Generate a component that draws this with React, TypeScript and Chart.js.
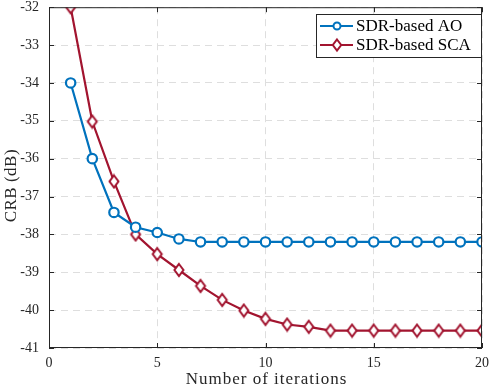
import React, { useEffect, useRef } from "react";
import { Chart, registerables } from "chart.js";

Chart.register(...registerables);

const iterations = [1, 2, 3, 4, 5, 6, 7, 8, 9, 10, 11, 12, 13, 14, 15, 16, 17, 18, 19, 20];
const aoValues = [-34.0, -36.0, -37.42, -37.81, -37.95, -38.12, -38.2, -38.2, -38.2, -38.2, -38.2, -38.2, -38.2, -38.2, -38.2, -38.2, -38.2, -38.2, -38.2, -38.2];
const scaValues = [-32.0, -35.02, -36.6, -38.0, -38.52, -38.94, -39.36, -39.73, -40.01, -40.23, -40.38, -40.44, -40.54, -40.54, -40.54, -40.54, -40.54, -40.54, -40.54, -40.54];
const seriesNames = ["SDR-based AO", "SDR-based SCA"];
const xTicks = [0, 5, 10, 15, 20];
const yTicks = [-32, -33, -34, -35, -36, -37, -38, -39, -40, -41];
const xTitle = "Number of iterations";
const yTitle = "CRB (dB)";

const BLUE = "#0072BD";
const RED = "#A2142F";
const FONT = "'Liberation Serif', serif";

function makeDiamond(): HTMLCanvasElement {
  const c = document.createElement("canvas");
  c.width = 14;
  c.height = 16;
  const g = c.getContext("2d")!;
  g.beginPath();
  g.moveTo(7, 2); g.lineTo(11.5, 8); g.lineTo(7, 14); g.lineTo(2.5, 8); g.closePath();
  g.fillStyle = "#fff";
  g.fill();
  g.strokeStyle = RED;
  g.lineWidth = 2;
  g.stroke();
  return c;
}

const framePlugin = {
  id: "frame",
  afterDraw(chart: any) {
    const { ctx, chartArea: a, scales } = chart;
    ctx.save();
    ctx.strokeStyle = "#262626";
    ctx.lineWidth = 1;
    ctx.strokeRect(a.left + 0.5, a.top + 0.5, a.right - a.left - 1, a.bottom - a.top - 1);
    ctx.beginPath();
    for (const t of xTicks) {
      const x = Math.round(scales.x.getPixelForValue(t)) + 0.5;
      ctx.moveTo(x, a.bottom); ctx.lineTo(x, a.bottom - 5);
      ctx.moveTo(x, a.top); ctx.lineTo(x, a.top + 5);
    }
    for (const t of yTicks) {
      const y = Math.round(scales.y.getPixelForValue(t)) + 0.5;
      ctx.moveTo(a.left, y); ctx.lineTo(a.left + 5, y);
      ctx.moveTo(a.right, y); ctx.lineTo(a.right - 5, y);
    }
    ctx.stroke();

    // axis titles
    ctx.fillStyle = "#262626";
    ctx.textAlign = "center";
    ctx.textBaseline = "middle";
    ctx.font = `17px ${FONT}`;
    (ctx as any).letterSpacing = "1px";
    ctx.fillText(xTitle, (a.left + a.right) / 2 + 1, 380);
    ctx.save();
    ctx.translate(12, (a.top + a.bottom) / 2 + 8);
    ctx.rotate(-Math.PI / 2);
    (ctx as any).letterSpacing = "0.5px";
    ctx.fillText(yTitle, 0, 0);
    ctx.restore();

    // legend
    const lx = 316, ly = 14, lw = 165, lh = 43;
    ctx.fillStyle = "#fff";
    ctx.fillRect(lx, ly, lw, lh);
    ctx.strokeStyle = "#262626";
    ctx.lineWidth = 1;
    ctx.strokeRect(lx + 0.5, ly + 0.5, lw, lh);
    const rows = [
      { name: seriesNames[0], color: BLUE, style: "circle" },
      { name: seriesNames[1], color: RED, style: "diamond" },
    ];
    (ctx as any).letterSpacing = "0px";
    rows.forEach((r, i) => {
      const cy = ly + 12 + i * 19;
      ctx.strokeStyle = r.color;
      ctx.lineWidth = 2;
      ctx.beginPath();
      ctx.moveTo(lx + 4, cy); ctx.lineTo(lx + 37, cy);
      ctx.stroke();
      ctx.beginPath();
      const cx = lx + 21;
      if (r.style === "circle") {
        ctx.arc(cx, cy, 3.5, 0, Math.PI * 2);
      } else {
        ctx.moveTo(cx, cy - 5.5); ctx.lineTo(cx + 4.2, cy); ctx.lineTo(cx, cy + 5.5); ctx.lineTo(cx - 4.2, cy); ctx.closePath();
      }
      ctx.fillStyle = "#fff";
      ctx.fill();
      ctx.stroke();
      ctx.fillStyle = "#000";
      ctx.font = `17px ${FONT}`;
      ctx.textBaseline = "middle";
      ctx.textAlign = "left";
      ctx.fillText(r.name, lx + 40, cy + 1);
    });
    ctx.restore();
  },
};

export default function App() {
  const ref = useRef<HTMLCanvasElement>(null);
  useEffect(() => {
    document.body.style.margin = "0";
    const diamond = makeDiamond();
    const chart = new Chart(ref.current!, {
      type: "line",
      data: {
        datasets: [
          {
            label: seriesNames[0],
            data: iterations.map((x, i) => ({ x, y: aoValues[i] })),
            borderColor: BLUE,
            backgroundColor: "#fff",
            borderWidth: 2.2,
            pointStyle: "circle",
            pointRadius: 4.7,
            pointBorderWidth: 2.2,
            pointBackgroundColor: "#fff",
            pointBorderColor: BLUE,
          },
          {
            label: seriesNames[1],
            data: iterations.map((x, i) => ({ x, y: scaValues[i] })),
            borderColor: RED,
            backgroundColor: "#fff",
            borderWidth: 2.2,
            pointStyle: diamond,
            pointRadius: 5,
            pointBackgroundColor: "#fff",
            pointBorderColor: RED,
          },
        ],
      },
      options: {
        animation: false,
        responsive: false,
        layout: { padding: { top: 7, right: 8, left: 0, bottom: 0 } },
        plugins: { legend: { display: false }, tooltip: { enabled: false } },
        scales: {
          x: {
            type: "linear",
            min: 0,
            max: 20,
            afterBuildTicks: (s: any) => { s.ticks = xTicks.map((v) => ({ value: v })); },
            afterFit: (s: any) => { s.height = 40; s.paddingLeft = 0; s.paddingRight = 0; },
            grid: { color: "#dedede", drawTicks: false },
            border: { display: false, dash: [7, 5] },
            ticks: { color: "#262626", font: { family: FONT, size: 14 }, padding: 7, maxRotation: 0 },
          },
          y: {
            type: "linear",
            min: -41,
            max: -32,
            afterBuildTicks: (s: any) => { s.ticks = yTicks.map((v) => ({ value: v })); },
            afterFit: (s: any) => { s.width = 49; s.paddingTop = 0; s.paddingBottom = 0; },
            grid: { color: "#dedede", drawTicks: false },
            border: { display: false, dash: [7, 5] },
            ticks: { color: "#262626", font: { family: FONT, size: 14 }, padding: 10 },
          },
        },
      },
      plugins: [framePlugin],
    } as any);
    return () => chart.destroy();
  }, []);
  return <canvas ref={ref} width={490} height={388} style={{ display: "block" }} />;
}
